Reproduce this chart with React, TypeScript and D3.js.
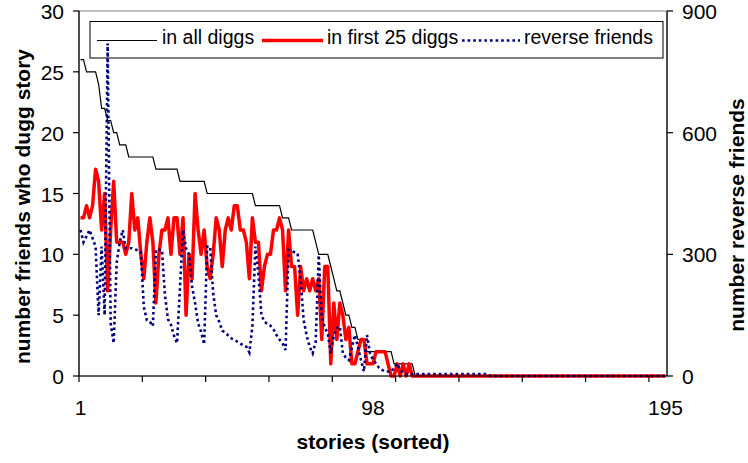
import React from "react";
import * as d3 from "d3";

// x categories: stories sorted, 1..195
const stories: number[] = d3.range(1, 196);
const xTickLabels: number[] = [1, 98, 195];
const xTickEvery = 21;
const leftTicks: number[] = [0, 5, 10, 15, 20, 25, 30];
const rightTicks: number[] = [0, 300, 600, 900];

// number of friends who dugg story — in all diggs
const inAllDiggs: number[] = [
  26, 26, 25, 25, 25, 25, 24, 22, 22, 21,
  21, 20, 20, 19, 19, 19, 18, 18, 18, 18,
  18, 18, 18, 18, 18, 17, 17, 17, 17, 17,
  17, 17, 17, 16, 16, 16, 16, 16, 16, 16,
  16, 16, 15, 15, 15, 15, 15, 15, 15, 15,
  15, 15, 15, 15, 15, 15, 15, 15, 14, 14,
  14, 14, 14, 14, 14, 14, 14, 13, 13, 13,
  12, 12, 12, 12, 12, 12, 12, 12, 11, 10,
  10, 10, 10, 9, 8, 7, 7, 6, 5, 5,
  4, 4, 3, 3, 3, 2, 2, 2, 2, 2,
  2, 2, 2, 2, 1, 1, 1, 1, 1, 1,
  1, 0, 0, 0, 0, 0, 0, 0, 0, 0,
  0, 0, 0, 0, 0, 0, 0, 0, 0, 0,
  0, 0, 0, 0, 0, 0, 0, 0, 0, 0,
  0, 0, 0, 0, 0, 0, 0, 0, 0, 0,
  0, 0, 0, 0, 0, 0, 0, 0, 0, 0,
  0, 0, 0, 0, 0, 0, 0, 0, 0, 0,
  0, 0, 0, 0, 0, 0, 0, 0, 0, 0,
  0, 0, 0, 0, 0, 0, 0, 0, 0, 0,
  0, 0, 0, 0, 0,
];

// in first 25 diggs
const inFirst25: number[] = [
  13, 13, 14, 13, 14, 17, 16, 12, 15, 7,
  12, 16, 11, 11, 11, 10, 11, 15, 12, 13,
  10, 8, 11, 13, 11, 6, 10, 12, 12, 13,
  10, 13, 13, 10, 13, 5, 10, 8, 15, 12,
  10, 12, 9, 8, 10, 13, 12, 9, 12, 13,
  12, 14, 14, 12, 12, 11, 8, 13, 11, 11,
  7, 9, 10, 10, 12, 12, 13, 12, 7, 12,
  9, 9, 5, 9, 7, 8, 7, 8, 7, 8,
  3, 9, 9, 1, 6, 3, 6, 5, 3, 4,
  1, 1, 2, 3, 3, 1, 1, 1, 2, 2,
  2, 2, 1, 0, 0, 1, 0, 1, 0, 1,
  0, 0, 0, 0, 0, 0, 0, 0, 0, 0,
  0, 0, 0, 0, 0, 0, 0, 0, 0, 0,
  0, 0, 0, 0, 0, 0, 0, 0, 0, 0,
  0, 0, 0, 0, 0, 0, 0, 0, 0, 0,
  0, 0, 0, 0, 0, 0, 0, 0, 0, 0,
  0, 0, 0, 0, 0, 0, 0, 0, 0, 0,
  0, 0, 0, 0, 0, 0, 0, 0, 0, 0,
  0, 0, 0, 0, 0, 0, 0, 0, 0, 0,
  0, 0, 0, 0, 0,
];

// number of reverse friends (right axis)
const reverseFriends: number[] = [
  360, 330, 345, 360, 340, 319, 150, 319, 150, 820,
  130, 81, 280, 330, 360, 315, 315, 315, 312, 310,
  306, 170, 138, 134, 123, 311, 311, 311, 200, 140,
  126, 100, 81, 220, 360, 315, 300, 220, 180, 130,
  109, 78, 319, 319, 204, 150, 134, 112, 107, 100,
  93, 89, 85, 80, 76, 72, 58, 122, 319, 250,
  150, 134, 128, 124, 115, 101, 90, 81, 64, 311,
  308, 305, 302, 237, 138, 100, 72, 56, 85, 298,
  146, 120, 105, 56, 100, 118, 122, 56, 45, 39,
  70, 101, 72, 40, 11, 101, 56, 40, 31, 20,
  15, 11, 11, 11, 20, 31, 15, 8, 5, 5,
  5, 5, 5, 5, 5, 5, 5, 5, 5, 5,
  5, 5, 5, 5, 5, 5, 5, 5, 5, 5,
  5, 5, 5, 5, 5, 5, 0, 0, 0, 0,
  0, 0, 0, 0, 0, 0, 0, 0, 0, 0,
  0, 0, 0, 0, 0, 0, 0, 0, 0, 0,
  0, 0, 0, 0, 0, 0, 0, 0, 0, 0,
  0, 0, 0, 0, 0, 0, 0, 0, 0, 0,
  0, 0, 0, 0, 0, 0, 0, 0, 0, 0,
  0, 0, 0, 0, 0,
];

const seriesNames = ["in all diggs", "in first 25 diggs", "reverse friends"];

const W = 748;
const H = 463;
const FONT = "'Liberation Sans', Arial, Helvetica, sans-serif";
const BLUE = "#000080";
const DOT = "2.6 3";

export default function App() {
  const left = 79, right = 667, top = 11, bottom = 376;
  const x = d3.scaleBand<number>().domain(stories).range([left, right]).padding(0);
  const cx = (c: number) => (x(c) as number) + x.bandwidth() / 2;
  const yL = d3.scaleLinear().domain([0, 30]).range([bottom, top]);
  const yR = d3.scaleLinear().domain([0, 900]).range([bottom, top]);

  const lineL = d3.line<number>().x((_, i) => cx(stories[i])).y((d) => yL(d));
  const lineR = d3.line<number>().x((_, i) => cx(stories[i])).y((d) => yR(d));

  const xTicks = stories.filter((c) => (c - 1) % xTickEvery === 0);

  const legendItems = [
    { name: seriesNames[0], x1: 97, x2: 157, tx: 162, stroke: "#000", w: 1.2, dash: undefined as string | undefined },
    { name: seriesNames[1], x1: 262, x2: 323, tx: 327, stroke: "#ff0000", w: 3.5, dash: undefined },
    { name: seriesNames[2], x1: 462, x2: 520, tx: 524, stroke: BLUE, w: 2.6, dash: DOT },
  ];

  return (
    <svg
      width={W}
      height={H}
      style={{ position: "absolute", left: 0, top: 0, background: "#fff" }}
      fontFamily={FONT}
    >
      <rect x={0} y={0} width={W} height={H} fill="#fff" />
      {/* plot area border */}
      <rect x={left} y={top} width={right - left} height={bottom - top} fill="none" stroke="#808080" strokeWidth={1} />

      {/* series */}
      <path d={lineL(inAllDiggs) || ""} fill="none" stroke="#000" strokeWidth={1.2} />
      <path d={lineL(inFirst25) || ""} fill="none" stroke="#ff0000" strokeWidth={3.5} strokeLinejoin="round" />
      <path d={lineR(reverseFriends) || ""} fill="none" stroke={BLUE} strokeWidth={2.6} strokeDasharray={DOT} />

      {/* axes */}
      <line x1={left} x2={left} y1={top} y2={bottom} stroke="#000" strokeWidth={1.2} />
      <line x1={right} x2={right} y1={top} y2={bottom} stroke="#000" strokeWidth={1.2} />
      <line x1={left} x2={right} y1={bottom} y2={bottom} stroke="#000" strokeWidth={1.2} />

      {leftTicks.map((t) => (
        <g key={"l" + t}>
          <line x1={left - 6} x2={left} y1={yL(t)} y2={yL(t)} stroke="#000" strokeWidth={1.2} />
          <text x={64} y={yL(t) + 8} fontSize={21} textAnchor="end">{t}</text>
        </g>
      ))}
      {rightTicks.map((t) => (
        <g key={"r" + t}>
          <line x1={right} x2={right + 6} y1={yR(t)} y2={yR(t)} stroke="#000" strokeWidth={1.2} />
          <text x={682} y={yR(t) + 8} fontSize={21} textAnchor="start">{t}</text>
        </g>
      ))}
      {xTicks.map((c) => (
        <line key={"x" + c} x1={x(c)} x2={x(c)} y1={bottom} y2={bottom + 6} stroke="#000" strokeWidth={1.2} />
      ))}
      {xTickLabels.map((c) => (
        <text key={"xl" + c} x={cx(c)} y={415} fontSize={21} textAnchor="middle">{c}</text>
      ))}

      {/* axis titles */}
      <text x={373} y={449} fontSize={21} fontWeight="bold" textAnchor="middle">stories (sorted)</text>
      <text transform="translate(30,206.5) rotate(-90)" fontSize={21} fontWeight="bold" textAnchor="middle">
        number friends who dugg story
      </text>
      <text transform="translate(744,215) rotate(-90)" fontSize={21} fontWeight="bold" textAnchor="middle">
        number reverse friends
      </text>

      {/* legend */}
      <rect x={90} y={21.5} width={573} height={36.5} fill="none" stroke="#000" strokeWidth={1} />
      {legendItems.map((it) => (
        <g key={it.name}>
          <line x1={it.x1} x2={it.x2} y1={40.5} y2={40.5} stroke={it.stroke} strokeWidth={it.w} strokeDasharray={it.dash} />
          <text x={it.tx} y={44} fontSize={19.5}>{it.name}</text>
        </g>
      ))}
    </svg>
  );
}
